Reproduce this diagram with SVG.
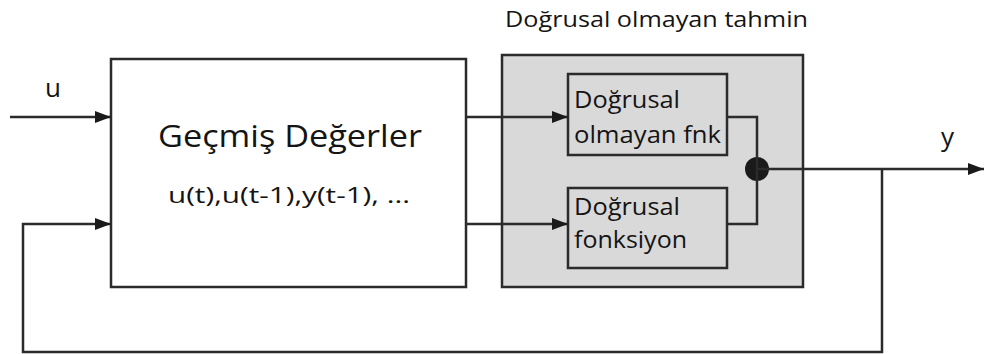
<svg xmlns="http://www.w3.org/2000/svg" width="984" height="354" viewBox="0 0 984 354">
  <style>
    .box { fill: #ffffff; stroke: #2b2b2b; stroke-width: 2.5; }
    .panel { fill: #d9d9d9; stroke: #2b2b2b; stroke-width: 2.5; }
    .inner { fill: #d9d9d9; stroke: #2b2b2b; stroke-width: 2.5; }
    .wire { fill: none; stroke: #2b2b2b; stroke-width: 2.5; }
    text { font-family: "Open Sans", "Noto Sans", "Liberation Sans", sans-serif; fill: #141414; }
  </style>
  <defs>
    <marker id="arrow" markerWidth="16" markerHeight="12" refX="16" refY="6" orient="auto" markerUnits="userSpaceOnUse">
      <path d="M0,0 L16,6 L0,12 Z" fill="#1a1a1a"/>
    </marker>
  </defs>

  <rect width="984" height="354" fill="#ffffff"/>

  <!-- Past values block -->
  <g id="gecmis">
    <rect class="box" x="111" y="59" width="355" height="228"/>
    <text x="158" y="147" font-size="31" textLength="264" lengthAdjust="spacingAndGlyphs">Geçmiş Değerler</text>
    <text x="168" y="203" font-size="22" fill="#333" textLength="242" lengthAdjust="spacingAndGlyphs">u(t),u(t-1),y(t-1), ...</text>
  </g>

  <!-- Nonlinear estimator panel -->
  <g id="tahmin">
    <text x="505" y="27" font-size="21" textLength="303" lengthAdjust="spacingAndGlyphs">Doğrusal olmayan tahmin</text>
    <rect class="panel" x="502" y="55" width="301" height="232"/>
  </g>

  <g id="dogrusal-olmayan">
    <rect class="inner" x="568" y="74" width="159" height="81"/>
    <text x="574" y="108" font-size="23" textLength="106" lengthAdjust="spacingAndGlyphs">Doğrusal</text>
    <text x="574" y="143" font-size="23" textLength="147" lengthAdjust="spacingAndGlyphs">olmayan fnk</text>
  </g>

  <g id="dogrusal">
    <rect class="inner" x="568" y="188" width="159" height="80"/>
    <text x="574" y="215" font-size="23" textLength="106" lengthAdjust="spacingAndGlyphs">Doğrusal</text>
    <text x="574" y="248" font-size="23" textLength="113" lengthAdjust="spacingAndGlyphs">fonksiyon</text>
  </g>

  <g id="toplam">
    <circle cx="757" cy="169" r="12" fill="#1a1a1a"/>
  </g>

  <!-- Connectors -->
  <g id="connectors">
    <path class="wire" d="M10,117 H111" marker-end="url(#arrow)"/>
    <path class="wire" d="M882,169 V352 H23 V224 H111" marker-end="url(#arrow)"/>
    <path class="wire" d="M466,117 H568" marker-end="url(#arrow)"/>
    <path class="wire" d="M466,224 H568" marker-end="url(#arrow)"/>
    <path class="wire" d="M727,117 H757 V224 H727"/>
    <path class="wire" d="M757,169 H984" marker-end="url(#arrow)"/>
  </g>

  <!-- Signal labels -->
  <text x="45" y="97" font-size="26">u</text>
  <text x="941" y="146" font-size="26">y</text>
</svg>
